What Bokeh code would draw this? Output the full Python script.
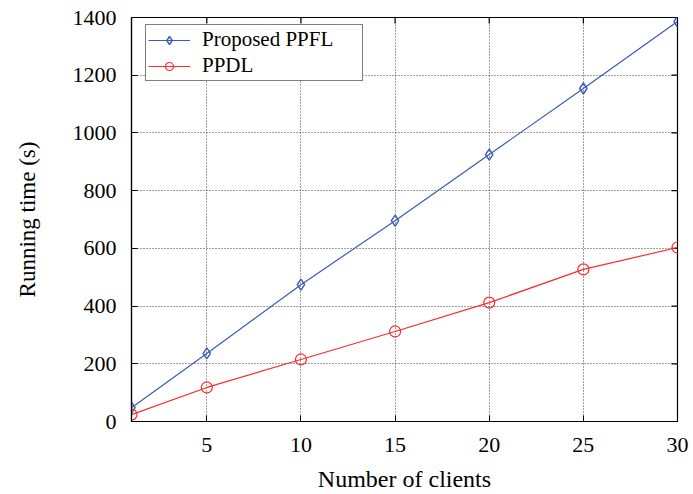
import numpy as np
from bokeh.plotting import figure
from bokeh.models import Range1d, FixedTicker, Legend, LegendItem
from bokeh.embed import file_html
from bokeh.resources import INLINE

clients = [1, 5, 10, 15, 20, 25, 30]
ppfl = [48, 236, 474, 696, 925, 1154, 1386]
ppdl = [24, 118, 215, 312, 412, 527, 603]
x_ticks = [5, 10, 15, 20, 25, 30]
y_ticks = [0, 200, 400, 600, 800, 1000, 1200, 1400]
x_lim = [1, 30]
y_lim = [0, 1400]

FONT = "'Liberation Serif'"
BLUE = "#3b5bb5"
RED = "#ff2a2a"

p = figure(width=693, height=494, output_backend="svg", toolbar_location=None,
           x_range=Range1d(*x_lim), y_range=Range1d(*y_lim),
           min_border_left=131, min_border_right=16, min_border_top=17, min_border_bottom=73)
p.background_fill_color = "white"
p.border_fill_color = "white"
p.outline_line_color = "black"
p.outline_line_width = 1.2

for ax in (p.xaxis[0], p.yaxis[0]):
    ax.major_label_text_font = FONT
    ax.major_label_text_font_size = "22px"
    ax.major_label_text_color = "black"
    ax.axis_label_text_font = FONT
    ax.axis_label_text_font_style = "normal"
    ax.axis_label_text_color = "black"
    ax.major_tick_in = 6
    ax.major_tick_out = 0
    ax.minor_tick_in = 0
    ax.minor_tick_out = 0
    ax.axis_line_color = "black"
    ax.axis_line_width = 1.2

p.xaxis[0].ticker = FixedTicker(ticks=x_ticks)
p.yaxis[0].ticker = FixedTicker(ticks=y_ticks)
p.xaxis[0].axis_label = "Number of clients"
p.yaxis[0].axis_label = "Running time (s)"
p.xaxis[0].axis_label_text_font_size = "24px"
p.yaxis[0].axis_label_text_font_size = "23px"
p.xaxis[0].major_label_standoff = 16
p.xaxis[0].axis_label_standoff = 11
p.yaxis[0].major_label_standoff = 15
p.yaxis[0].axis_label_standoff = 30

p.xgrid.ticker = FixedTicker(ticks=x_ticks)
p.ygrid.ticker = FixedTicker(ticks=y_ticks)
for g in (p.xgrid[0], p.ygrid[0]):
    g.grid_line_color = "black"
    g.grid_line_alpha = 0.75
    g.grid_line_dash = "1 2"
    g.grid_line_width = 1

# mirrored inward ticks on the top and right edges of the frame
p.ray(x=x_ticks, y=[y_lim[1]] * len(x_ticks), length=6, length_units="screen",
      angle=-np.pi / 2, line_color="black", line_width=1.2)
p.ray(x=[x_lim[1]] * len(y_ticks), y=y_ticks, length=6, length_units="screen",
      angle=np.pi, line_color="black", line_width=1.2)

r1 = p.line(clients, ppfl, line_color=BLUE, line_width=1.2)
m1 = p.scatter(clients, ppfl, marker="diamond", size=11,
               fill_color=None, line_color=BLUE, line_width=1.4)
r2 = p.line(clients, ppdl, line_color=RED, line_width=1.2)
m2 = p.scatter(clients, ppdl, marker="circle", size=11, fill_color=None,
               line_color=RED, line_width=1.2)

legend = Legend(items=[LegendItem(label="Proposed PPFL", renderers=[r1, m1]),
                       LegendItem(label="PPDL", renderers=[r2, m2])],
                location=(14, 340))
legend.label_text_font = FONT
legend.label_text_font_size = "21px"
legend.label_text_color = "black"
legend.label_height = 20
legend.label_width = 158
legend.glyph_width = 42
legend.glyph_height = 20
legend.label_standoff = 12
legend.spacing = 1
legend.padding = 2
legend.margin = 0
legend.border_line_color = "black"
legend.border_line_width = 1.2
legend.background_fill_alpha = 1
p.add_layout(legend, "center")

open("out.html", "w").write(file_html(p, INLINE))
